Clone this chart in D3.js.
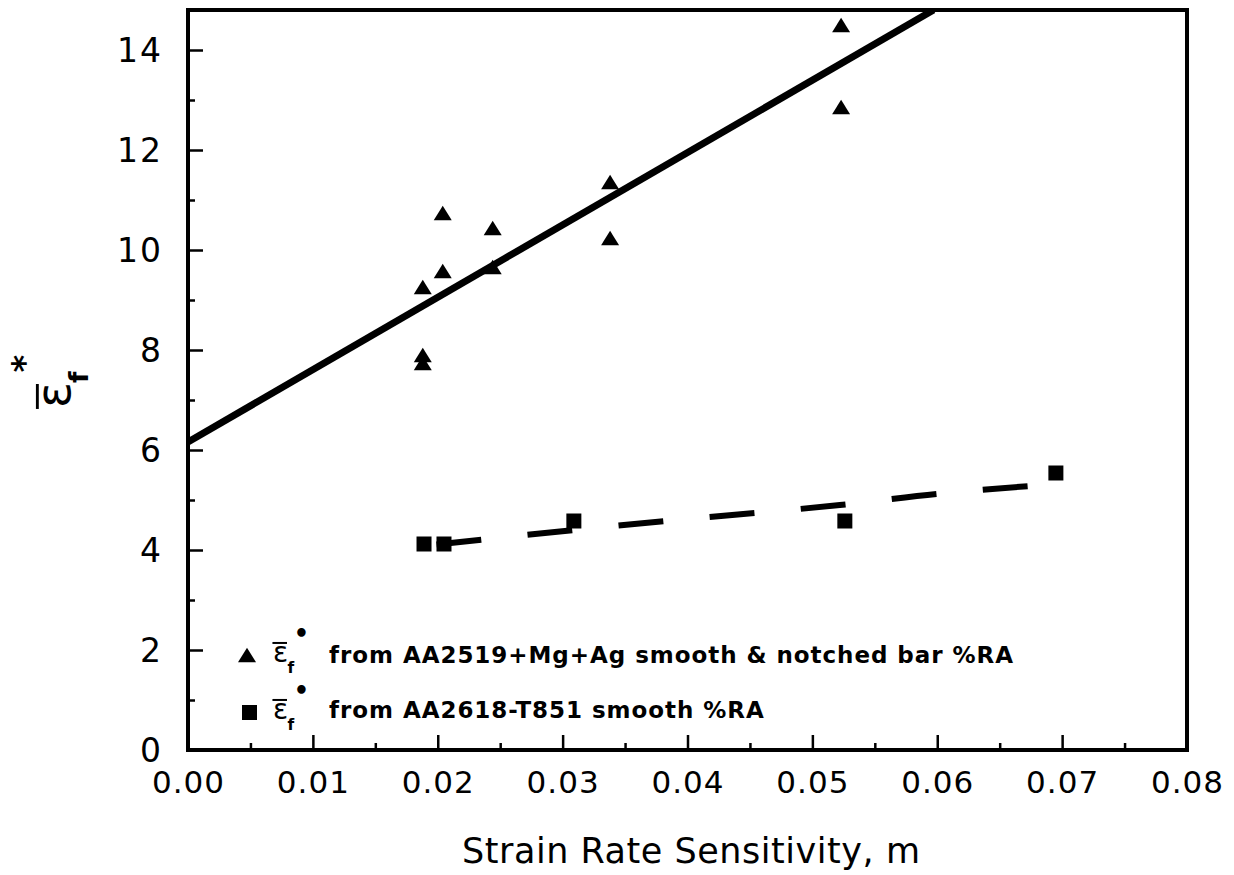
<!DOCTYPE html>
<html lang="en">
<head>
<meta charset="utf-8">
<title>Strain rate sensitivity vs failure strain</title>
<script src="https://cdn.jsdelivr.net/npm/d3@7"></script>
<style>
  body { margin: 0; background: #fff; }
  text { font-family: "DejaVu Sans", sans-serif; fill: #000; }
</style>
</head>
<body>
<script>
// AA2519+Mg+Ag smooth & notched bar (triangles)
const triM = [0.0188, 0.0188, 0.0188, 0.0204, 0.0204, 0.0244, 0.0244, 0.0338, 0.0338, 0.0523, 0.0523];
const triE = [9.26, 7.9, 7.74, 10.74, 9.58, 10.44, 9.66, 11.36, 10.24, 14.5, 12.86];

// AA2618-T851 smooth (squares)
const sqM = [0.0189, 0.0205, 0.0309, 0.0526, 0.0695];
const sqE = [4.12, 4.12, 4.58, 4.58, 5.54];

// fitted lines
const fitA_M = [0, 0.0597];
const fitA_E = [6.16, 14.8];
const fitB_M = [0.0199, 0.0309, 0.0382, 0.0522, 0.060, 0.0695];
const fitB_E = [4.11, 4.40, 4.58, 4.90, 5.12, 5.32];

// axis ticks
const xMajor = [0, 0.01, 0.02, 0.03, 0.04, 0.05, 0.06, 0.07, 0.08];
const xMinor = [0.005, 0.015, 0.025, 0.035, 0.045, 0.055, 0.065, 0.075];
const yMajor = [0, 2, 4, 6, 8, 10, 12, 14];
const yMinor = [1, 3, 5, 7, 9, 11, 13];

const legendText = [
  "from AA2519+Mg+Ag smooth & notched bar %RA",
  "from AA2618-T851 smooth %RA"
];

let w = 1234, h = 875;
let L = 188, R = 1187, T = 10, B = 750;

let x = d3.scaleLinear().domain([0, 0.08]).range([L, R]);
let y = d3.scaleLinear().domain([0, 14.8]).range([B, T]);

let svg = d3.select("body").append("svg")
  .attr("width", w).attr("height", h);

svg.append("defs").append("clipPath").attr("id", "plot")
  .append("rect").attr("x", L).attr("y", T).attr("width", R - L).attr("height", B - T);

//bottom axis, ticks inward
let xAx = svg.append("g").attr("transform", `translate(0,${B})`)
  .call(d3.axisBottom(x).tickValues(xMajor).tickSizeInner(-15).tickSizeOuter(0)
    .tickFormat(d3.format(".2f")));
xAx.select(".domain").remove();
xAx.selectAll("line").attr("stroke-width", 2.5);
xAx.selectAll("text").attr("y", 43).attr("dy", null)
  .style("font-size", "31px").style("letter-spacing", "1px").attr("fill", "#000");

let xMin = svg.append("g").attr("transform", `translate(0,${B})`)
  .call(d3.axisBottom(x).tickValues(xMinor).tickSizeInner(-7).tickSizeOuter(0).tickFormat(""));
xMin.select(".domain").remove();
xMin.selectAll("line").attr("stroke-width", 2.5);

//left axis
let yAx = svg.append("g").attr("transform", `translate(${L},0)`)
  .call(d3.axisLeft(y).tickValues(yMajor).tickSizeInner(-15).tickSizeOuter(0));
yAx.select(".domain").remove();
yAx.selectAll("line").attr("stroke-width", 2.5);
yAx.selectAll("text").attr("x", -25).attr("dy", "0.36em")
  .style("font-size", "33px").style("letter-spacing", "2px").attr("fill", "#000");

let yMin = svg.append("g").attr("transform", `translate(${L},0)`)
  .call(d3.axisLeft(y).tickValues(yMinor).tickSizeInner(-7).tickSizeOuter(0).tickFormat(""));
yMin.select(".domain").remove();
yMin.selectAll("line").attr("stroke-width", 2.5);

//fit lines
let line = d3.line().x(d => x(d[0])).y(d => y(d[1]));
svg.append("path")
  .datum(d3.zip(fitA_M, fitA_E))
  .attr("clip-path", "url(#plot)")
  .attr("d", line)
  .attr("fill", "none").attr("stroke", "#000").attr("stroke-width", 7);

svg.append("path")
  .datum(d3.zip(fitB_M, fitB_E))
  .attr("d", line.curve(d3.curveMonotoneX))
  .attr("fill", "none").attr("stroke", "#000").attr("stroke-width", 6)
  .attr("stroke-dasharray", "45,46.5");

//triangle centred on its bounding box
const tri = {
  draw(ctx, size) {
    let s = Math.sqrt(size), hh = s * 0.4;
    ctx.moveTo(0, -hh); ctx.lineTo(s / 2, hh); ctx.lineTo(-s / 2, hh); ctx.closePath();
  }
};

svg.append("g").selectAll("path")
  .data(d3.zip(triM, triE))
  .join("path")
  .attr("transform", d => `translate(${x(d[0])},${y(d[1])})`)
  .attr("d", d3.symbol().type(tri).size(18 * 18));

svg.append("g").selectAll("rect")
  .data(d3.zip(sqM, sqE))
  .join("rect")
  .attr("x", d => x(d[0]) - 7.5).attr("y", d => y(d[1]) - 7.5)
  .attr("width", 15).attr("height", 15);

//frame
svg.append("rect")
  .attr("x", L).attr("y", T).attr("width", R - L).attr("height", B - T)
  .attr("fill", "none").attr("stroke", "#000").attr("stroke-width", 4);

//epsilon-bar-f-star label helper
function epsLabel(g, size, sup) {
  g.append("text").attr("x", 0).attr("y", 0).style("font-size", size + "px").text("ε");
  g.append("line").attr("x1", -size * 0.02).attr("x2", size * 0.5)
    .attr("y1", -size * 0.68).attr("y2", -size * 0.68)
    .attr("stroke", "#000").attr("stroke-width", Math.max(2, size * 0.06));
  g.append("text").attr("x", size * 0.52).attr("y", size * 0.38)
    .style("font-size", (size * 0.55) + "px").style("font-weight", "bold").text("f");
  g.append("text").attr("x", size * 0.74).attr("y", sup.dy)
    .style("font-size", sup.size + "px").style("font-weight", "bold").text(sup.ch);
}

//y axis title
let yt = svg.append("g").attr("transform", "translate(70,408) rotate(-90)");
epsLabel(yt, 48, { ch: "*", size: 34, dy: -34 });

//x axis title
svg.append("text")
  .attr("x", 462).attr("y", 863)
  .attr("textLength", 458).attr("lengthAdjust", "spacing")
  .style("font-size", "35px")
  .text("Strain Rate Sensitivity, m");

//legend
let legY = [655, 712];
let leg = svg.append("g");
leg.append("path")
  .attr("transform", `translate(247,${legY[0]})`)
  .attr("d", d3.symbol().type(tri).size(18 * 18));
leg.append("rect")
  .attr("x", 242).attr("y", legY[1] - 7).attr("width", 15).attr("height", 15);

legY.forEach((ly, i) => {
  let g = leg.append("g").attr("transform", `translate(273,${ly + 7})`);
  epsLabel(g, 28, { ch: "•", size: 24, dy: -20 });
});

let t0 = leg.append("text").attr("x", 329).attr("y", legY[0] + 8)
  .style("font-size", "23px").style("font-weight", "bold").text(legendText[0]);
let t1 = leg.append("text").attr("x", 329).attr("y", legY[1] + 6)
  .style("font-size", "23px").style("font-weight", "bold").text(legendText[1]);
let nat0 = t0.node().getComputedTextLength();
let nat1 = t1.node().getComputedTextLength();
t0.attr("textLength", 684).attr("lengthAdjust", "spacing");
t1.attr("textLength", nat1 * 684 / nat0).attr("lengthAdjust", "spacing");
</script>
</body>
</html>
